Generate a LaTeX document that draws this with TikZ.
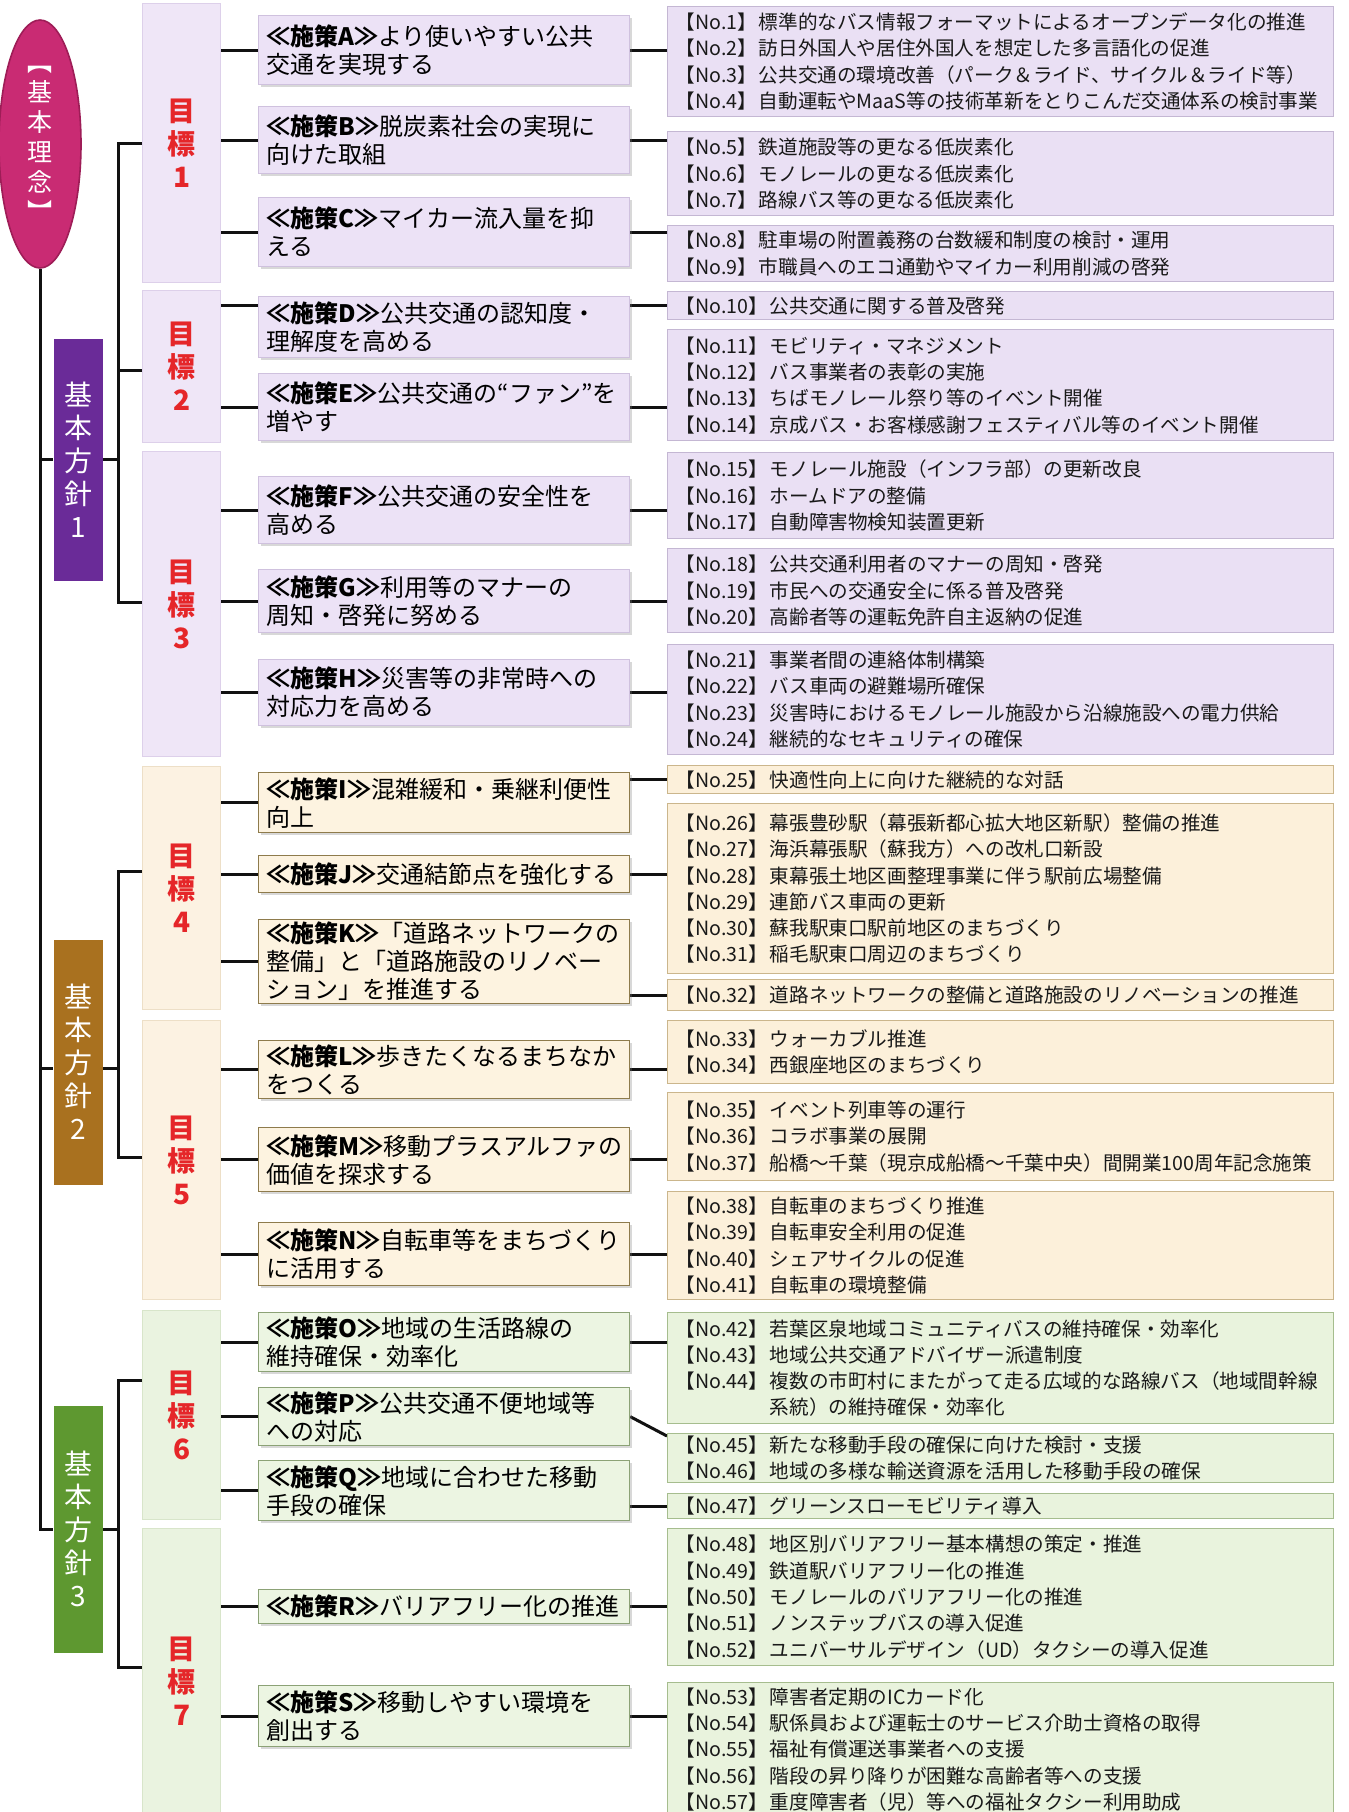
\documentclass[tikz,border=0pt]{standalone}
\usepackage{fontspec}
\setmainfont{Noto Sans CJK JP}
\usetikzlibrary{shapes.geometric,shadows}
\pgfdeclarelayer{bg}
\pgfsetlayers{bg,main}
\definecolor{linec}{HTML}{111111}
\definecolor{rinenfill}{HTML}{C92B73}
\definecolor{rinendraw}{HTML}{9E1D57}
\definecolor{hpur}{HTML}{6A2B98}
\definecolor{hora}{HTML}{A9711F}
\definecolor{hgre}{HTML}{5E9830}
\definecolor{goalred}{HTML}{E52629}
\definecolor{pgoalf}{HTML}{EFE6F7}
\definecolor{pgoald}{HTML}{DDD0EA}
\definecolor{psisf}{HTML}{ECE2F6}
\definecolor{psisd}{HTML}{CFC1DE}
\definecolor{pnof}{HTML}{EAE0F4}
\definecolor{pnod}{HTML}{C4B7D3}
\definecolor{ogoalf}{HTML}{FCF2E2}
\definecolor{ogoald}{HTML}{EDDFC7}
\definecolor{osisf}{HTML}{FDF3E0}
\definecolor{osisd}{HTML}{8E7B4C}
\definecolor{onof}{HTML}{FCF0DA}
\definecolor{onod}{HTML}{CBB68C}
\definecolor{ggoalf}{HTML}{EAF3E0}
\definecolor{ggoald}{HTML}{D8E5CA}
\definecolor{gsisf}{HTML}{ECF5E2}
\definecolor{gsisd}{HTML}{8CA276}
\definecolor{gnof}{HTML}{E9F3DD}
\definecolor{gnod}{HTML}{A6BD8E}
\newcommand\nfont{\fontsize{9.8}{13.15}\selectfont}
\newcommand\sfont{\fontsize{12}{14}\selectfont}
\newcommand\gfont{\fontsize{14}{16.5}\selectfont\bfseries}
\newcommand\hfont{\fontsize{14}{16.5}\selectfont}
\newcommand\rfont{\fontsize{12.5}{15}\selectfont}
\newcommand\sk[1]{{\bfseries ≪施策#1≫}}
\newcommand\nolab[1]{【No.#1】\hspace{0.1em}}
\newcommand\bx[7]{%
  \pgfmathsetmacro\bxw{#5*0.5}%
  \pgfmathsetmacro\bxh{#6*0.5}%
  \pgfmathsetmacro\bxt{#5*0.5-8}%
  \node[#1, anchor=north west, minimum width=\bxw pt, minimum height=\bxh pt, text width=\bxt pt] (#2) at (#3,#4) {#7};}
\tikzset{
  conn/.style={draw=linec, line width=1.5pt},
  bxbase/.style={rectangle, inner xsep=4pt, inner ysep=0.5pt, line width=0.6pt},
  hsn/.style={bxbase, align=center, text=white, font=\hfont},
  goalbx/.style={bxbase, align=center, text=goalred, font=\gfont},
  sis/.style={bxbase, align=left, font=\sfont, text=black, drop shadow={opacity=0.3, shadow xshift=1.2pt, shadow yshift=-1.4pt}},
  nob/.style={bxbase, align=left, font=\nfont, text=black!90},
  pgoal/.style={goalbx, fill=pgoalf, draw=pgoald},
  psis/.style={sis, fill=psisf, draw=psisd},
  pno/.style={nob, fill=pnof, draw=pnod},
  ogoal/.style={goalbx, fill=ogoalf, draw=ogoald},
  osis/.style={sis, fill=osisf, draw=osisd},
  ono/.style={nob, fill=onof, draw=onod},
  ggoal/.style={goalbx, fill=ggoalf, draw=ggoald},
  gsis/.style={sis, fill=gsisf, draw=gsisd},
  gno/.style={nob, fill=gnof, draw=gnod}
}
\begin{document}
\begin{tikzpicture}[x=0.5pt, y=-0.5pt]
\useasboundingbox (0,0) rectangle (1349,1812);
\clip (0,0) rectangle (1349,1812);

% root
\node[ellipse, fill=rinenfill, draw=rinendraw, line width=0.8pt, minimum width=41pt, minimum height=124pt, inner sep=0pt, align=center, text=white, font=\rfont] (rinen) at (40,144) {︻\\基\\本\\理\\念\\︼};

% basic policies
\bx{hsn, fill=hpur}{h1}{53}{338}{49}{242}{基\\本\\方\\針\\1}
\bx{hsn, fill=hora}{h2}{53}{939}{49}{245}{基\\本\\方\\針\\2}
\bx{hsn, fill=hgre}{h3}{53}{1405}{49}{247}{基\\本\\方\\針\\3}

% goals
\bx{pgoal}{g1}{142}{3}{78}{279}{目\\標\\1}
\bx{pgoal}{g2}{142}{290}{78}{152}{目\\標\\2}
\bx{pgoal}{g3}{142}{451}{78}{305}{目\\標\\3}
\bx{ogoal}{g4}{142}{766}{78}{243}{目\\標\\4}
\bx{ogoal}{g5}{142}{1020}{78}{279}{目\\標\\5}
\bx{ggoal}{g6}{142}{1310}{78}{209}{目\\標\\6}
\bx{ggoal}{g7}{142}{1528}{78}{305}{目\\標\\7}

% measures
\bx{psis}{sA}{258}{15}{371}{69}{\sk{A}より使いやすい公共\\交通を実現する}
\bx{psis}{sB}{258}{106}{371}{67}{\sk{B}脱炭素社会の実現に\\向けた取組}
\bx{psis}{sC}{258}{197}{371}{69}{\sk{C}マイカー流入量を抑\\える}
\bx{psis}{sD}{258}{296}{371}{61}{\sk{D}公共交通の認知度・\\理解度を高める}
\bx{psis}{sE}{258}{373}{371}{67}{\sk{E}公共交通の“ファン”を\\増やす}
\bx{psis}{sF}{258}{476}{371}{67}{\sk{F}公共交通の安全性を\\高める}
\bx{psis}{sG}{258}{569}{371}{63}{\sk{G}利用等のマナーの\\周知・啓発に努める}
\bx{psis}{sH}{258}{659}{371}{66}{\sk{H}災害等の非常時への\\対応力を高める}
\bx{osis}{sI}{258}{772}{371}{60}{\sk{I}混雑緩和・乗継利便性\\向上}
\bx{osis}{sJ}{258}{855}{371}{37}{\sk{J}交通結節点を強化する}
\bx{osis}{sK}{258}{919}{371}{84}{\sk{K}「道路ネットワークの\\整備」と「道路施設のリノベー\\ション」を推進する}
\bx{osis}{sL}{258}{1040}{371}{58}{\sk{L}歩きたくなるまちなか\\をつくる}
\bx{osis}{sM}{258}{1127}{371}{64}{\sk{M}移動プラスアルファの\\価値を探求する}
\bx{osis}{sN}{258}{1222}{371}{63}{\sk{N}自転車等をまちづくり\\に活用する}
\bx{gsis}{sO}{258}{1312}{371}{59}{\sk{O}地域の生活路線の\\維持確保・効率化}
\bx{gsis}{sP}{258}{1387}{371}{58}{\sk{P}公共交通不便地域等\\への対応}
\bx{gsis}{sQ}{258}{1460}{371}{60}{\sk{Q}地域に合わせた移動\\手段の確保}
\bx{gsis}{sR}{258}{1589}{371}{34}{\sk{R}バリアフリー化の推進}
\bx{gsis}{sS}{258}{1685}{371}{61}{\sk{S}移動しやすい環境を\\創出する}

% projects
\bx{pno}{n1}{667}{6}{666}{110}{\nolab{1}標準的なバス情報フォーマットによるオープンデータ化の推進\\\nolab{2}訪日外国人や居住外国人を想定した多言語化の促進\\\nolab{3}公共交通の環境改善（パーク＆ライド、サイクル＆ライド等）\\\nolab{4}自動運転やMaaS等の技術革新をとりこんだ交通体系の検討事業}
\bx{pno}{n5}{667}{131}{666}{84}{\nolab{5}鉄道施設等の更なる低炭素化\\\nolab{6}モノレールの更なる低炭素化\\\nolab{7}路線バス等の更なる低炭素化}
\bx{pno}{n8}{667}{225}{666}{56}{\nolab{8}駐車場の附置義務の台数緩和制度の検討・運用\\\nolab{9}市職員へのエコ通勤やマイカー利用削減の啓発}
\bx{pno}{n10}{667}{291}{666}{28}{\nolab{10}公共交通に関する普及啓発}
\bx{pno}{n11}{667}{329}{666}{111}{\nolab{11}モビリティ・マネジメント\\\nolab{12}バス事業者の表彰の実施\\\nolab{13}ちばモノレール祭り等のイベント開催\\\nolab{14}京成バス・お客様感謝フェスティバル等のイベント開催}
\bx{pno}{n15}{667}{452}{666}{86}{\nolab{15}モノレール施設（インフラ部）の更新改良\\\nolab{16}ホームドアの整備\\\nolab{17}自動障害物検知装置更新}
\bx{pno}{n18}{667}{548}{666}{84}{\nolab{18}公共交通利用者のマナーの周知・啓発\\\nolab{19}市民への交通安全に係る普及啓発\\\nolab{20}高齢者等の運転免許自主返納の促進}
\bx{pno}{n21}{667}{644}{666}{110}{\nolab{21}事業者間の連絡体制構築\\\nolab{22}バス車両の避難場所確保\\\nolab{23}災害時におけるモノレール施設から沿線施設への電力供給\\\nolab{24}継続的なセキュリティの確保}
\bx{ono}{n25}{667}{765}{666}{28}{\nolab{25}快適性向上に向けた継続的な対話}
\bx{ono}{n26}{667}{803}{666}{170}{\nolab{26}幕張豊砂駅（幕張新都心拡大地区新駅）整備の推進\\\nolab{27}海浜幕張駅（蘇我方）への改札口新設\\\nolab{28}東幕張土地区画整理事業に伴う駅前広場整備\\\nolab{29}連節バス車両の更新\\\nolab{30}蘇我駅東口駅前地区のまちづくり\\\nolab{31}稲毛駅東口周辺のまちづくり}
\bx{ono}{n32}{667}{979}{666}{31}{\nolab{32}道路ネットワークの整備と道路施設のリノベーションの推進}
\bx{ono}{n33}{667}{1020}{666}{63}{\nolab{33}ウォーカブル推進\\\nolab{34}西銀座地区のまちづくり}
\bx{ono}{n35}{667}{1092}{666}{88}{\nolab{35}イベント列車等の運行\\\nolab{36}コラボ事業の展開\\\nolab{37}船橋〜千葉（現京成船橋〜千葉中央）間開業100周年記念施策}
\bx{ono}{n38}{667}{1191}{666}{108}{\nolab{38}自転車のまちづくり推進\\\nolab{39}自転車安全利用の促進\\\nolab{40}シェアサイクルの促進\\\nolab{41}自転車の環境整備}
\bx{gno}{n42}{667}{1312}{666}{111}{\nolab{42}若葉区泉地域コミュニティバスの維持確保・効率化\\\nolab{43}地域公共交通アドバイザー派遣制度\\\nolab{44}複数の市町村にまたがって走る広域的な路線バス（地域間幹線\\\phantom{\nolab{44}}系統）の維持確保・効率化}
\bx{gno}{n45}{667}{1433}{666}{49}{\nolab{45}新たな移動手段の確保に向けた検討・支援\\\nolab{46}地域の多様な輸送資源を活用した移動手段の確保}
\bx{gno}{n47}{667}{1493}{666}{25}{\nolab{47}グリーンスローモビリティ導入}
\bx{gno}{n48}{667}{1528}{666}{137}{\nolab{48}地区別バリアフリー基本構想の策定・推進\\\nolab{49}鉄道駅バリアフリー化の推進\\\nolab{50}モノレールのバリアフリー化の推進\\\nolab{51}ノンステップバスの導入促進\\\nolab{52}ユニバーサルデザイン（UD）タクシーの導入促進}
\bx{gno}{n53}{667}{1682}{666}{134}{\nolab{53}障害者定期のICカード化\\\nolab{54}駅係員および運転士のサービス介助士資格の取得\\\nolab{55}福祉有償運送事業者への支援\\\nolab{56}階段の昇り降りが困難な高齢者等への支援\\\nolab{57}重度障害者（児）等への福祉タクシー利用助成}

\begin{pgfonlayer}{bg}
\fill[white] (0,0) rectangle (1349,1812);
% trunk
\draw[conn] (rinen.south) -- (rinen.south |- h3.west) -- (h3.west);
\draw[conn] (rinen.south |- h1.west) -- (h1.west);
\coordinate (j2) at (118,1068);
\draw[conn] (rinen.south |- j2) -- (h2.west |- j2);
\draw[conn] (h2.east |- j2) -- (j2);
% branch 1
\coordinate (v1a) at (118,143);
\coordinate (v1b) at (118,370);
\coordinate (v1c) at (118,602);
\draw[conn] (h1.east) -- (h1.east -| v1a);
\draw[conn] (v1a -| g1.west) -- (v1a) -- (v1c) -- (v1c -| g3.west);
\draw[conn] (v1b) -- (v1b -| g2.west);
% branch 2
\coordinate (v2a) at (118,871);
\coordinate (v2b) at (118,1157);
\draw[conn] (v2a -| g4.west) -- (v2a) -- (v2b) -- (v2b -| g5.west);
% branch 3
\coordinate (v3a) at (118,1380);
\coordinate (v3b) at (118,1667);
\draw[conn] (h3.east) -- (h3.east -| v3a);
\draw[conn] (v3a -| g6.west) -- (v3a) -- (v3b) -- (v3b -| g7.west);
% rows
\foreach \gg/\ss/\nn in {g1/sA/n1, g1/sB/n5, g1/sC/n8, g2/sE/n11, g3/sF/n15, g3/sG/n18, g3/sH/n21, g4/sJ/n26, g5/sL/n33, g5/sM/n35, g5/sN/n38, g6/sO/n42, g7/sR/n48, g7/sS/n53}{
  \draw[conn] (\gg.east |- \ss.west) -- (\ss.west);
  \draw[conn] (\ss.east) -- (\ss.east -| \nn.west);
}
\draw[conn] (g2.east |- n10.west) -- (sD.west |- n10.west);
\draw[conn] (sD.east |- n10.west) -- (n10.west);
\draw[conn] (g4.east |- sI.west) -- (sI.west);
\draw[conn] (sI.east |- n25.west) -- (n25.west);
\draw[conn] (g4.east |- sK.west) -- (sK.west);
\draw[conn] (sK.east |- n32.west) -- (n32.west);
\draw[conn] (g6.east |- sP.west) -- (sP.west);
\draw[conn] (sP.east) -- ([yshift=-1.5pt]n45.north west);
\draw[conn] (g6.east |- sQ.west) -- (sQ.west);
\draw[conn] (sQ.east |- n47.west) -- (n47.west);
\end{pgfonlayer}
\end{tikzpicture}
\end{document}
